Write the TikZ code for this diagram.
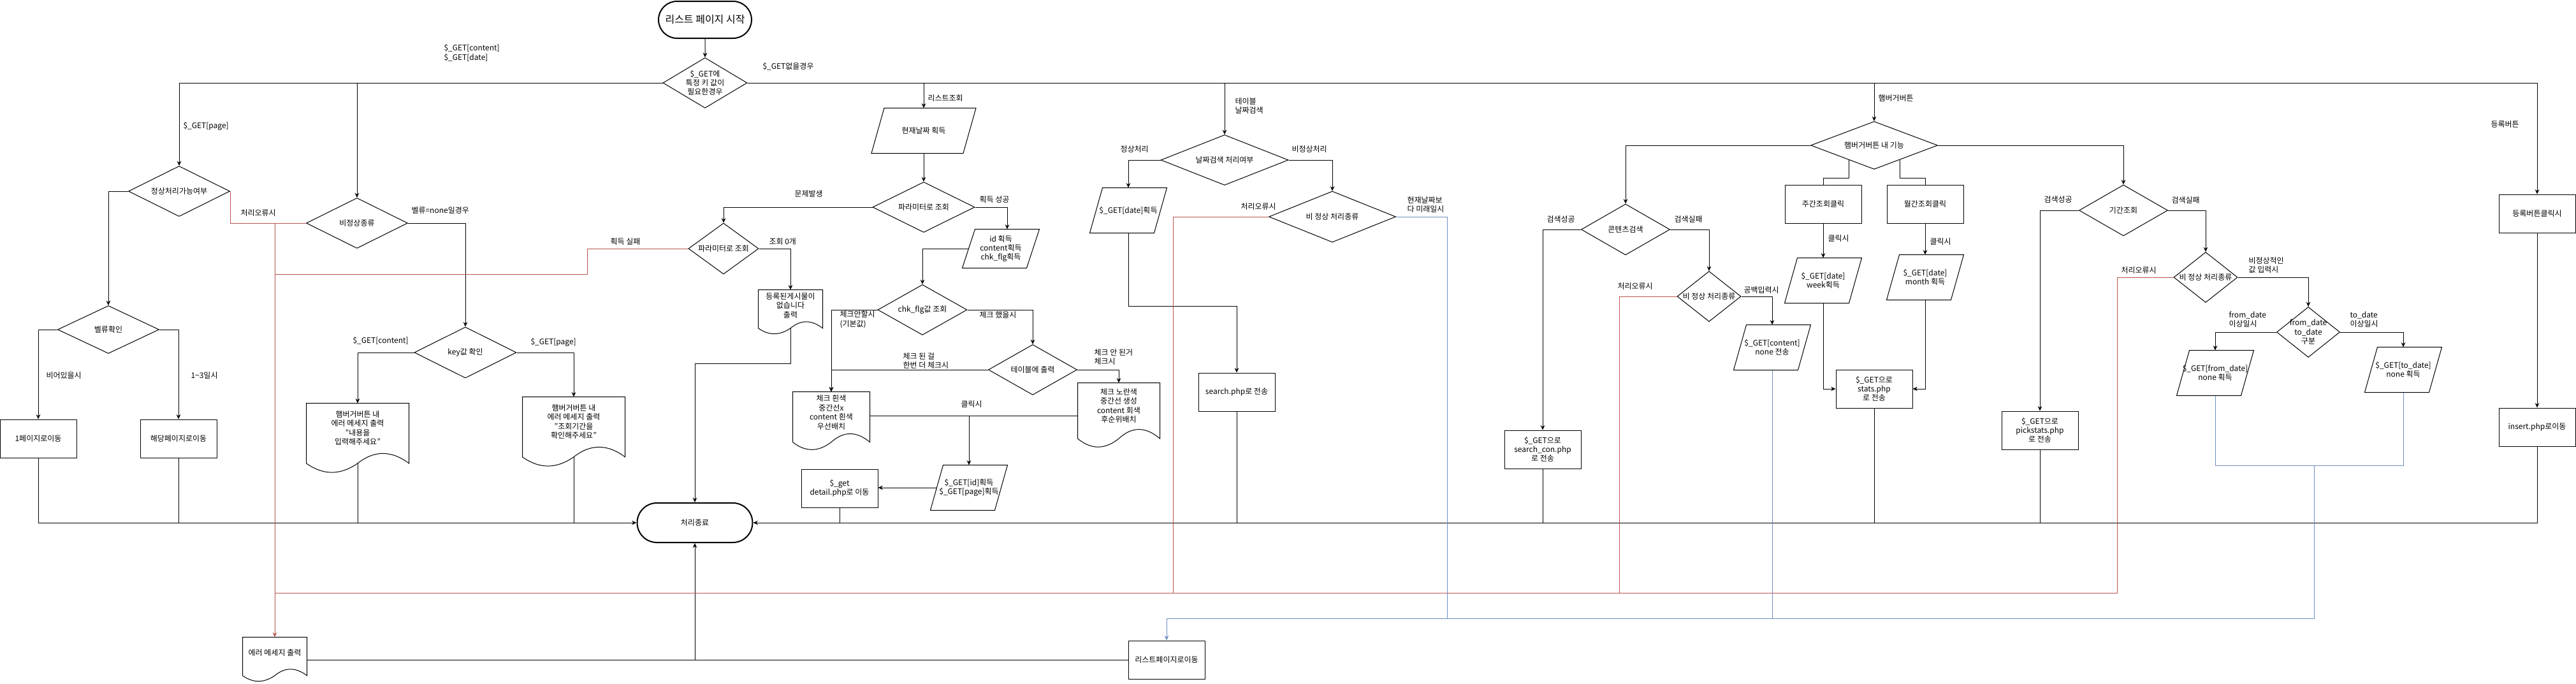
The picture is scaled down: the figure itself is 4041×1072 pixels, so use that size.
\documentclass[tikz,border=0pt]{standalone}
\usepackage{fontspec}
\setmainfont{Noto Sans CJK KR}
\usetikzlibrary{shapes.geometric,shapes.misc,arrows.meta,calc}
\definecolor{errred}{HTML}{B85450}
\definecolor{backblue}{HTML}{6C8EBF}

\tikzset{every picture/.style={line width=0.75pt}}
\tikzset{
  dec/.style 2 args={diamond, draw, inner sep=0pt, minimum width=#1*0.75pt, minimum height=#2*0.75pt},
  proc/.style 2 args={rectangle, draw, inner sep=0pt, align=center, minimum width=#1*0.75pt, minimum height=#2*0.75pt},
  term/.style 2 args={rounded rectangle, draw, line width=1.5pt, inner sep=0pt, minimum width=#1*0.75pt, minimum height=#2*0.75pt},
  ghost/.style 2 args={rectangle, inner sep=0pt, align=center, minimum width=#1*0.75pt, minimum height=#2*0.75pt},
  doctext/.style={align=center, inner sep=0pt},
  lbl/.style={anchor=west, inner sep=0pt, align=left},
  arr/.style={-{Stealth[length=5.5pt,width=5pt]}},
  errline/.style={draw=errred},
  backline/.style={draw=backblue},
}

% document shape: name, cx, cy, w, h, text
\newcommand{\docnode}[6]{%
  \node[ghost={#4}{#5}] (#1) at (#2,#3) {};
  \node[doctext] (#1-t) at ($(#1.north)!0.35!(#1.south)$) {#6};
  \coordinate (#1-w) at ($(#1.north)!0.85!(#1.south)$);
  \draw (#1.north west) -- (#1.north east) -- ($(#1.north east)!0.85!(#1.south east)$)
    .. controls ($(#1.north west)+({0.8333*#4},{0.67*#5})$) and ($(#1.north west)+({0.6667*#4},{0.67*#5})$) .. (#1-w)
    .. controls ($(#1.north west)+({0.3333*#4},{1.03*#5})$) and ($(#1.north west)+({0.1667*#4},{1.03*#5})$) .. ($(#1.north west)!0.85!(#1.south west)$) -- cycle;}
% data shape: name, cx, cy, w, h, text
\newcommand{\ionode}[6]{%
  \node[ghost={#4}{#5}] (#1) at (#2,#3) {#6};
  \coordinate (#1-n) at ($(#1.north)+(10,0)$);
  \coordinate (#1-l) at ($(#1.west)+(10,0)$);
  \draw (#1.south west) -- ($(#1.north west)+(20,0)$) -- (#1.north east) -- ($(#1.south east)+(-20,0)$) -- cycle;}

\begin{document}
\begin{tikzpicture}[x=0.75pt,y=0.75pt,yscale=-1,xscale=1,font=\fontsize{9pt}{10.8pt}\selectfont]
\useasboundingbox (0,0) rectangle (4041,1072);

%Terminators
\node[term={146}{58}, font=\fontsize{12pt}{14pt}\selectfont] (start) at (1106,31) {리스트 페이지 시작};
\node[term={181}{62}] (endt) at (1090,820) {처리종료};

%Decisions
\node[dec={132}{79}, label={[align=center]center:\$\_GET에\\특정 키 값이\\필요한경우}] (gkey) at (1106,130) {};
\node[dec={159}{79}, label={center:정상처리가능여부}] (pchk) at (281,300) {};
\node[dec={159}{79}, label={center:비정상종류}] (abn) at (560,350) {};
\node[dec={159}{75}, label={center:벨류확인}] (valchk) at (170,517) {};
\node[dec={160}{80}, label={center:key값 확인}] (keychk) at (730,553) {};
\node[dec={160}{79}, label={center:파라미터로 조회}] (param1) at (1449,325) {};
\node[dec={110}{80}, label={center:파라미터로 조회}] (param2) at (1135,390) {};
\node[dec={140}{79}, label={center:chk\_flg값 조회}] (chkflg) at (1447,486) {};
\node[dec={139}{79}, label={center:테이블에 출력}] (tblout) at (1620,580) {};
\node[dec={200}{79}, label={center:날짜검색 처리여부}] (datesrch) at (1921,251) {};
\node[dec={199}{80}, label={center:비 정상 처리종류}] (dateerr) at (2090,340) {};
\node[dec={199}{75}, label={center:햄버거버튼 내 기능}] (hamb) at (2940,228) {};
\node[dec={139}{80}, label={center:콘텐츠검색}] (consrch) at (2550,360) {};
\node[dec={100}{79}, label={center:비 정상 처리종류}] (conerr) at (2681,465) {};
\node[dec={139}{80}, label={center:기간조회}] (period) at (3331,330) {};
\node[dec={100}{79}, label={center:비 정상 처리종류}] (perr) at (3460,435) {};
\node[dec={99}{79}, label={[align=center]center:from\_date\\to\_date\\구분}] (fromto) at (3621,521) {};

%Processes
\node[proc={120}{60}] (page1) at (60,688) {1페이지로이동};
\node[proc={120}{60}] (pageN) at (280,688) {해당페이지로이동};
\node[proc={120}{60}] (detail) at (1317,766) {\$\_get\\detail.php로 이동};
\node[proc={120}{60}] (srchphp) at (1940,615) {search.php로 전송};
\node[proc={120}{60}] (listmv) at (1830,1035) {리스트페이지로이동};
\node[proc={120}{60}] (srchcon) at (2420,705) {\$\_GET으로\\search\_con.php\\로 전송};
\node[proc={120}{60}] (weekbtn) at (2860,320) {주간조회클릭};
\node[proc={120}{60}] (monbtn) at (3020,320) {월간조회클릭};
\node[proc={120}{60}] (stats) at (2940,610) {\$\_GET으로\\stats.php\\로 전송};
\node[proc={120}{60}] (pick) at (3200,675) {\$\_GET으로\\pickstats.php\\로 전송};
\node[proc={120}{60}] (regbtn) at (3980,335) {등록버튼클릭시};
\node[proc={120}{60}] (insert) at (3980,670) {insert.php로이동};

%Documents
\docnode{errdoc}{431}{1035}{100}{70}{에러 메세지 출력}
\docnode{doc1}{561}{688}{160}{110}{햄버거버튼 내\\에러 메세지 출력\\"내용을\\입력해주세요"}
\docnode{doc2}{900}{678}{160}{110}{햄버거버튼 내\\에러 메세지 출력\\"조회기간을\\확인해주세요"}
\docnode{doc3}{1240}{490}{100}{70}{등록된게시물이\\없습니다\\출력}
\docnode{chkw}{1304}{661}{120}{92}{체크 흰색\\중간선x\\content 흰색\\우선배치}
\docnode{chky}{1755}{652}{128}{102}{체크 노란색\\중간선 생성\\content 회색\\후순위배치}

%Data
\ionode{today}{1449}{205}{163}{70}{현재날짜 획득}
\ionode{idp}{1570}{390}{120}{60}{id 획득\\content획득\\chk\_flg획득}
\ionode{datep}{1770}{330}{120}{70}{\$\_GET[date]획득}
\ionode{clickp}{1520}{765}{120}{70}{\$\_GET[id]획득\\\$\_GET[page]획득}
\ionode{connone}{2780}{545}{120}{70}{\$\_GET[content]\\none 전송}
\ionode{weekp}{2860}{440}{120}{70}{\$\_GET[date]\\week획득}
\ionode{monp}{3020}{435}{120}{70}{\$\_GET[date]\\month 획득}
\ionode{fromp}{3475}{585}{120}{70}{\$\_GET[from\_date]\\none 획득}
\ionode{todp}{3770}{580}{120}{70}{\$\_GET[to\_date]\\none 획득}

%Bend points
\coordinate (p2bend) at (921,430);
\coordinate (d3turn) at (1090,570);
\coordinate (dturn) at (1850,480);
\coordinate (rb1) at (1840,930);
\coordinate (rb2) at (2540,930);
\coordinate (rb3) at (3321,930);
\coordinate (bb1) at (2270,970);
\coordinate (bb) at (3630,970);
\coordinate (bj) at (3630,730);

%Top bus
\draw[arr] (start) -- (gkey);
\draw[arr] (gkey.west) -| (pchk.north);
\draw[arr] (gkey.west) -| (abn.north);
\draw[arr] (gkey.east) -| (today.north);
\draw[arr] (gkey.east) -| (datesrch.north);
\draw[arr] (gkey.east) -| (hamb.north);
\draw[arr] (gkey.east) -| (regbtn.north);

%Page / key branch
\draw[arr] (pchk.west) -| (valchk.north);
\draw[arr] (valchk.west) -| (page1.north);
\draw[arr] (valchk.east) -| (pageN.north);
\draw[arr] (abn.east) -| (keychk.north);
\draw[arr] (keychk.west) -| (doc1.north);
\draw[arr] (keychk.east) -| (doc2.north);

%List branch
\draw[arr] (today) -- (param1);
\draw[arr] (param1.east) -| (idp-n);
\draw[arr] (idp-l) -| (chkflg.north);
\draw[arr] (param1.west) -| (param2.north);
\draw[arr] (param2.east) -| (doc3.north);
\draw[arr] (doc3-w) |- (d3turn) -- (endt.north);
\draw[arr] (chkflg.east) -| (tblout.north);
\draw[arr] (chkflg.west) -| (chkw.north);
\draw[arr] (tblout.west) -| (chkw.north);
\draw[arr] (tblout.east) -| (chky.north);
\draw (chkw.east |- chky.west) -- (chky.west);
\draw[arr] (clickp.north |- chky.west) -- (clickp.north);
\draw[arr] (clickp-l) -- (detail.east |- clickp-l);

%Date search branch
\draw[arr] (datesrch.west) -| (datep.north);
\draw[arr] (datep.south) |- (dturn) -| (srchphp.north);
\draw[arr] (datesrch.east) -| (dateerr.north);

%Hamburger branch
\draw[arr] (hamb.west) -| (consrch.north);
\draw[arr] (consrch.west) -| (srchcon.north);
\draw[arr] (consrch.east) -| (conerr.north);
\draw[arr] (conerr.east) -| (connone.north);
\draw ($(hamb.south)!0.4!(hamb.west)$) |- ($(weekbtn.north)+(0,-10)$) -- (weekbtn.north);
\draw ($(hamb.south)!0.4!(hamb.east)$) |- ($(monbtn.north)+(0,-10)$) -- (monbtn.north);
\draw[arr] (weekbtn) -- (weekp);
\draw[arr] (monbtn) -- (monp);
\draw[arr] (weekp.south) |- (stats.west);
\draw[arr] (monp.south) |- (stats.east);
\draw[arr] (hamb.east) -| (period.north);
\draw[arr] (period.west) -| (pick.north);
\draw[arr] (period.east) -| (perr.north);
\draw[arr] (perr.east) -| (fromto.north);
\draw[arr] (fromto.west) -| (fromp.north);
\draw[arr] (fromto.east) -| (todp.north);
\draw[arr] (regbtn) -- (insert);

%Bottom bus
\draw[arr] (page1.south) |- (endt.west);
\draw (pageN.south) -- (pageN.south |- endt.west);
\draw (doc1-w) -- (doc1-w |- endt.west);
\draw (doc2-w) -- (doc2-w |- endt.west);
\draw[arr] (insert.south) |- (endt.east);
\foreach \n in {detail,srchphp,srchcon,stats,pick}
  \draw (\n.south) -- (\n.south |- endt.east);
\draw (errdoc.east) -- (listmv.west);
\draw[arr] (endt.south |- errdoc.east) -- (endt.south);

%Error lines
\draw[errline] (pchk.east) |- (abn.west);
\draw[errline, arr] (errdoc.north |- abn.west) -- (errdoc.north);
\draw[errline] (param2.west) -| (p2bend) -- (errdoc.north |- p2bend);
\draw[errline] (perr.west) -| (rb3) -- (errdoc.north |- rb3);
\draw[errline] (dateerr.west) -| (rb1);
\draw[errline] (conerr.west) -| (rb2);

%Back-to-list lines
\draw[backline] (dateerr.east) -| (bb1);
\draw[backline] (connone.south) -- (connone.south |- bb);
\draw[backline] (fromp.south) |- (bj) -| (todp.south);
\draw[backline, arr] (bj) -- (bb) -| (listmv.north);

%Edge labels
\node[lbl] (lb-get) at (696,83) {\$\_GET[content]\\\$\_GET[date]};
\node[lbl] (lb-none) at (1196,104) {\$\_GET없을경우};
\node[lbl] (lb-page) at (287,198) {\$\_GET[page]};
\node[lbl] (lb-err1) at (377,334) {처리오류시};
\node[lbl] (lb-val) at (645,330) {벨류=none일경우};
\node[lbl] (lb-empty) at (72,589) {비어있을시};
\node[lbl] (lb-range) at (299,589) {1\textasciitilde 3일시};
\node[lbl] (lb-cont) at (553,534) {\$\_GET[content]};
\node[lbl] (lb-page2) at (832,537) {\$\_GET[page]};
\node[lbl] (lb-list) at (1455,154) {리스트조회};
\node[lbl] (lb-prob) at (1246,304) {문제발생};
\node[lbl] (lb-fail) at (957,379) {획득 실패};
\node[lbl] (lb-zero) at (1206,379) {조회 0개};
\node[lbl] (lb-ok) at (1536,313) {획득 성공};
\node[lbl] (lb-nochk) at (1317,501) {체크안할시\\(기본값)};
\node[lbl] (lb-chk) at (1536,494) {체크 했을시};
\node[lbl] (lb-again) at (1416,566) {체크 된 걸\\한번 더 체크시};
\node[lbl] (lb-unchk) at (1716,560) {체크 안 된거\\체크시};
\node[lbl] (lb-click1) at (1507,634) {클릭시};
\node[lbl] (lb-tbl) at (1937,166) {테이블\\날짜검색};
\node[lbl] (lb-norm) at (1757,234) {정상처리};
\node[lbl] (lb-abn) at (2026,234) {비정상처리};
\node[lbl] (lb-err2) at (1946,324) {처리오류시};
\node[lbl] (lb-future) at (2207,321) {현재날짜보\\다 미래일시};
\node[lbl] (lb-hit1) at (2426,344) {검색성공};
\node[lbl] (lb-miss1) at (2626,344) {검색실패};
\node[lbl] (lb-err3) at (2537,449) {처리오류시};
\node[lbl] (lb-blank) at (2735,455) {공백입력시};
\node[lbl] (lb-hamb) at (2946,154) {햄버거버튼};
\node[lbl] (lb-click2) at (2867,374) {클릭시};
\node[lbl] (lb-click3) at (3027,379) {클릭시};
\node[lbl] (lb-hit2) at (3206,313) {검색성공};
\node[lbl] (lb-miss2) at (3406,314) {검색실패};
\node[lbl] (lb-err4) at (3327,424) {처리오류시};
\node[lbl] (lb-bad) at (3527,416) {비정상적인\\값 입력시};
\node[lbl] (lb-from) at (3496,501) {from\_date\\이상일시};
\node[lbl] (lb-to) at (3686,501) {to\_date\\이상일시};
\node[lbl] (lb-reg) at (3907,195) {등록버튼};
\end{tikzpicture}
\end{document}
